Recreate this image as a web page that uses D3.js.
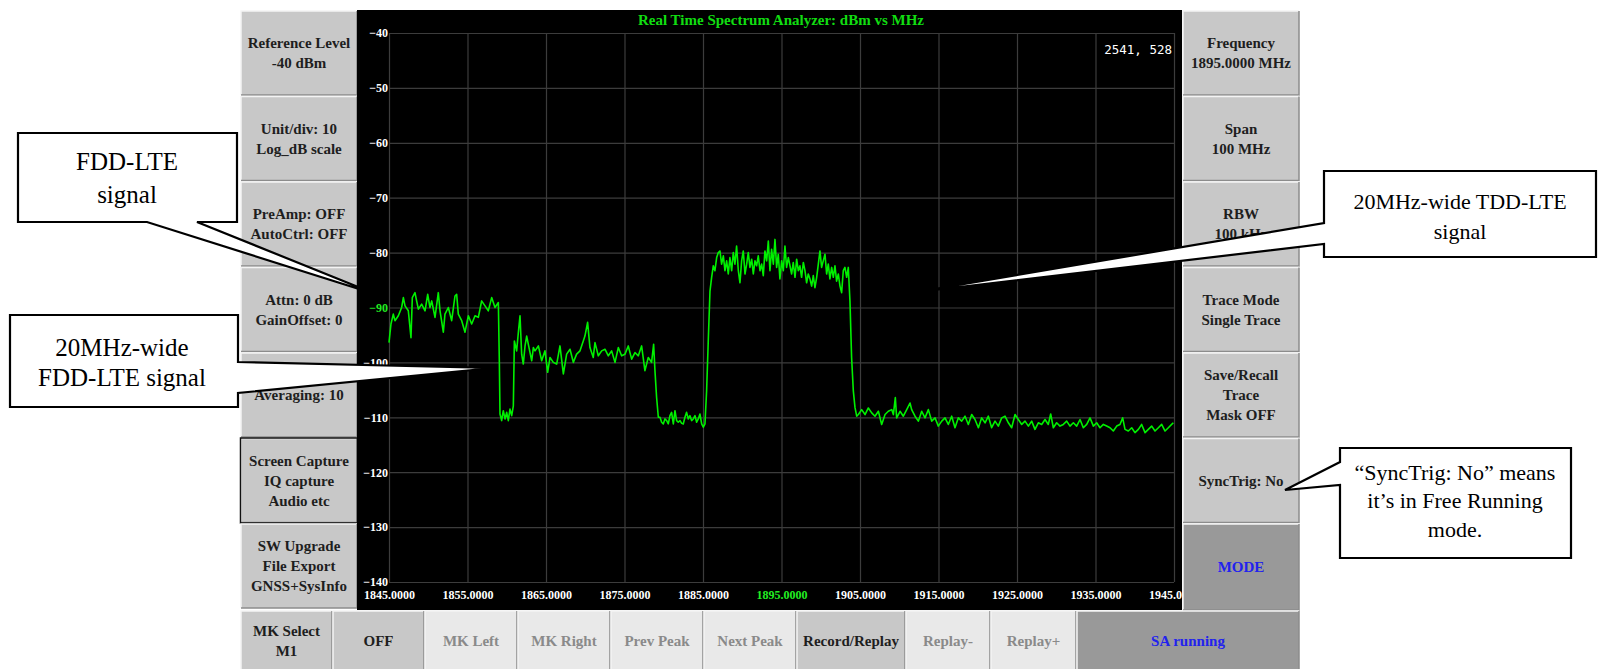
<!DOCTYPE html>
<meta charset="utf-8">
<script src="https://d3js.org/d3.v7.min.js"></script>
<style>
  body { margin: 0; background: #fff; }
  svg { display: block; }
</style>
<div id="screen"></div>
<script>

// ---- data ----
var yTicks = [-40, -50, -60, -70, -80, -90, -100, -110, -120, -130, -140];
var xTicks = [1845, 1855, 1865, 1875, 1885, 1895, 1905, 1915, 1925, 1935, 1945];
var markerLevel = -90;      // highlighted in green on the axis
var centerFreq = 1895;      // highlighted in green on the axis

// trace: [MHz, dBm]
var trace = [
  [1845.00,-96.4],[1845.25,-93.0],[1845.55,-91.2],[1845.76,-92.4],[1846.19,-91.5],[1846.61,-90.0],[1846.83,-88.2],[1847.04,-89.7],[1847.46,-90.6],[1847.80,-95.5],
  [1847.97,-88.2],[1848.31,-87.3],[1848.52,-88.8],[1848.74,-90.3],[1849.16,-89.4],[1849.59,-90.6],[1849.93,-87.6],[1850.22,-90.0],[1850.44,-88.8],[1850.86,-91.8],
  [1851.28,-87.3],[1851.50,-90.6],[1851.92,-94.5],[1852.13,-91.2],[1852.56,-90.0],[1852.98,-92.4],[1853.41,-87.9],[1853.62,-87.6],[1853.83,-91.2],[1854.26,-92.4],
  [1854.68,-94.5],[1855.11,-91.5],[1855.53,-93.0],[1855.96,-91.5],[1856.38,-91.8],[1856.80,-88.8],[1857.23,-89.7],[1857.65,-90.6],[1858.08,-88.2],[1858.50,-90.0],
  [1858.93,-89.1],[1859.06,-100.3],[1859.14,-109.4],[1859.35,-110.6],[1859.56,-108.8],[1859.78,-110.3],[1859.99,-109.1],[1860.20,-110.6],[1860.41,-108.5],[1860.63,-109.7],
  [1860.84,-107.9],[1860.97,-96.1],[1861.26,-97.9],[1861.48,-94.5],[1861.69,-91.5],[1861.90,-98.5],[1862.11,-100.3],[1862.33,-97.0],[1862.54,-95.2],[1862.75,-96.7],
  [1863.18,-99.7],[1863.39,-97.3],[1863.60,-97.9],[1864.03,-97.0],[1864.45,-99.7],[1864.87,-97.9],[1865.21,-101.8],[1865.51,-99.1],[1865.93,-100.0],[1866.36,-100.3],
  [1866.78,-97.0],[1867.21,-102.1],[1867.63,-98.5],[1868.06,-97.6],[1868.48,-100.0],[1868.90,-98.5],[1869.33,-97.9],[1869.75,-96.1],[1869.96,-95.2],[1870.30,-92.7],
  [1870.60,-97.3],[1871.02,-99.1],[1871.24,-96.4],[1871.66,-98.8],[1872.09,-97.9],[1872.51,-97.6],[1872.94,-98.8],[1873.36,-97.9],[1873.79,-100.0],[1874.21,-97.3],
  [1874.63,-98.8],[1875.06,-98.5],[1875.48,-97.0],[1875.91,-99.4],[1876.33,-98.2],[1876.76,-98.8],[1877.18,-97.0],[1877.60,-101.5],[1878.03,-99.1],[1878.45,-100.0],
  [1878.71,-96.7],[1878.88,-101.5],[1879.09,-106.4],
  [1879.31,-110.0],[1879.52,-110.0],[1879.73,-110.9],[1879.94,-111.2],[1880.15,-110.3],[1880.37,-110.6],[1880.58,-111.2],[1880.79,-109.7],[1881.00,-109.1],[1881.22,-111.2],
  [1881.43,-108.8],[1881.64,-110.6],[1881.85,-110.9],[1882.07,-110.6],[1882.28,-111.1],[1882.49,-111.2],[1882.70,-110.0],[1882.91,-109.1],[1883.13,-110.3],[1883.34,-109.7],
  [1883.55,-110.6],[1883.76,-110.3],[1883.98,-109.7],[1884.19,-110.9],[1884.40,-110.3],[1884.61,-109.4],[1884.83,-111.2],[1885.04,-111.8],[1885.25,-111.2],[1885.46,-105.2],
  [1885.67,-96.1],[1885.89,-87.0],[1886.10,-84.5],[1886.31,-82.4],[1886.52,-83.3],[1886.74,-80.9],[1886.95,-80.0],[1887.16,-79.7],[1887.37,-82.1],[1887.59,-80.6],
  [1887.80,-83.3],[1888.01,-81.5],[1888.22,-83.9],[1888.43,-80.9],[1888.65,-83.3],[1888.86,-80.0],[1889.07,-82.1],[1889.28,-78.8],[1889.50,-83.3],[1889.71,-85.5],
  [1889.92,-81.5],[1890.13,-79.7],[1890.35,-83.9],[1890.56,-82.1],[1890.77,-80.0],[1890.98,-82.7],[1891.20,-81.2],[1891.41,-83.9],[1891.62,-81.5],[1891.83,-82.4],
  [1892.04,-80.6],[1892.26,-83.3],[1892.47,-82.1],[1892.68,-84.2],[1892.89,-79.7],[1893.11,-81.5],[1893.32,-77.9],[1893.53,-83.3],[1893.74,-79.4],[1893.96,-82.1],
  [1894.17,-77.6],[1894.38,-82.7],[1894.59,-80.3],[1894.80,-84.8],[1895.02,-81.5],[1895.23,-83.3],[1895.44,-78.8],[1895.65,-82.7],[1895.87,-80.9],[1896.08,-82.4],
  [1896.29,-83.9],[1896.50,-81.8],[1896.72,-84.5],[1896.93,-81.2],[1897.14,-83.3],[1897.35,-82.4],[1897.56,-84.5],[1897.78,-81.8],[1897.99,-83.3],[1898.20,-85.5],
  [1898.41,-83.9],[1898.63,-84.8],[1898.84,-86.1],[1899.05,-84.2],[1899.26,-86.4],[1899.48,-84.5],[1899.69,-82.1],[1899.90,-79.7],[1900.11,-82.7],[1900.32,-81.5],
  [1900.54,-80.3],[1900.75,-83.9],[1900.96,-82.1],[1901.17,-84.8],[1901.39,-82.7],[1901.60,-84.5],[1901.81,-82.4],[1902.02,-85.2],[1902.24,-83.9],[1902.45,-86.1],
  [1902.66,-87.3],[1902.87,-83.3],[1903.08,-82.7],[1903.30,-84.5],[1903.51,-82.7],[1903.72,-88.8],[1903.93,-99.1],[1904.15,-105.2],[1904.36,-108.2],
  [1904.58,-109.8],[1904.79,-109.5],[1905.21,-108.6],[1905.64,-109.5],[1906.06,-108.3],[1906.49,-109.2],[1906.91,-109.8],[1907.34,-108.9],[1907.76,-111.3],[1908.19,-109.5],
  [1908.61,-108.9],[1909.04,-108.6],[1909.25,-109.5],[1909.50,-106.4],[1909.67,-110.1],[1910.10,-108.9],[1910.52,-109.8],[1910.95,-108.6],[1911.37,-107.4],[1911.58,-108.6],
  [1912.01,-109.8],[1912.43,-110.7],[1912.86,-108.9],[1913.28,-110.1],[1913.71,-108.6],[1914.13,-110.7],[1914.56,-110.1],[1914.98,-111.6],[1915.41,-110.7],[1915.83,-110.1],
  [1916.25,-111.3],[1916.68,-109.8],[1917.10,-111.9],[1917.53,-110.1],[1917.95,-110.7],[1918.38,-109.8],[1918.80,-111.3],[1919.23,-109.5],[1919.65,-110.4],[1920.08,-111.9],
  [1920.50,-110.1],[1920.93,-111.0],[1921.35,-109.8],[1921.77,-111.9],[1922.20,-110.7],[1922.62,-111.6],[1923.05,-110.1],[1923.47,-109.8],[1923.90,-111.0],[1924.32,-111.9],
  [1924.75,-109.5],[1925.17,-110.4],[1925.60,-111.3],[1926.02,-110.7],[1926.45,-111.6],[1926.87,-110.7],[1927.29,-112.2],[1927.72,-111.0],[1928.14,-111.3],[1928.57,-110.4],
  [1928.99,-111.3],[1929.29,-109.4],[1929.63,-111.9],[1930.05,-111.0],[1930.48,-111.6],[1930.90,-111.3],[1931.33,-110.7],[1931.75,-111.6],[1932.18,-111.0],[1932.60,-111.6],
  [1933.03,-110.4],[1933.45,-111.9],[1933.88,-111.3],[1934.30,-110.1],[1934.73,-111.6],[1935.15,-111.0],[1935.57,-111.9],[1936.00,-111.3],[1936.42,-111.6],[1936.85,-111.9],
  [1937.27,-112.5],[1937.70,-111.6],[1938.12,-111.3],[1938.46,-110.1],[1938.76,-112.2],[1939.18,-112.5],[1939.61,-111.9],[1940.03,-112.8],[1940.46,-112.2],[1940.88,-111.3],
  [1941.31,-112.8],[1941.73,-112.2],[1942.16,-111.6],[1942.58,-112.5],[1943.01,-111.9],[1943.43,-111.3],[1943.86,-112.5],[1944.28,-111.9],[1944.70,-111.3],[1944.92,-111.0]
];

var titleText = "Real Time Spectrum Analyzer: dBm vs MHz";
var cursorText = "2541, 528";

var leftButtons = [
  ["Reference Level", "-40 dBm"],
  ["Unit/div: 10", "Log_dB scale"],
  ["PreAmp: OFF", "AutoCtrl: OFF"],
  ["Attn: 0 dB", "GainOffset: 0"],
  ["Averaging: 10"],
  ["Screen Capture", "IQ capture", "Audio etc"],
  ["SW Upgrade", "File Export", "GNSS+SysInfo"]
];
var rightButtons = [
  ["Frequency", "1895.0000 MHz"],
  ["Span", "100 MHz"],
  ["RBW", "100 kHz"],
  ["Trace Mode", "Single Trace"],
  ["Save/Recall", "Trace", "Mask OFF"],
  ["SyncTrig: No"],
  ["MODE"]
];
var bottomButtons = [
  ["MK Select", "M1"], ["OFF"], ["MK Left"], ["MK Right"], ["Prev Peak"],
  ["Next Peak"], ["Record/Replay"], ["Replay-"], ["Replay+"], ["SA running"]
];
var bottomState = ["on", "on", "off", "off", "off", "off", "on", "off", "off", "mode"];

var callouts = [
  ["FDD-LTE", "signal"],
  ["20MHz-wide", "FDD-LTE signal"],
  ["20MHz-wide TDD-LTE", "signal"],
  ["\u201cSyncTrig: No\u201d means", "it\u2019s in Free Running", "mode."]
];

// ---- layout ----
var W = 1602, H = 669;
var serif = "'Liberation Serif','Times New Roman',serif";

var svg = d3.select("#screen").append("svg")
  .attr("width", W)
  .attr("height", H)
  .style("font-family", serif);

var x = d3.scaleLinear().domain([1845, 1945]).range([389, 1174]);
var y = d3.scaleLinear().domain([-140, -40]).range([582, 33]);

var faces = {on: "#c8c8c8", off: "#e9e9e9", mode: "#999999"};
var inks = {on: "#1e1e1e", off: "#8a8a8a", mode: "#2222ee"};

function button(x0, y0, w, h, lines, state, framed) {
  var g = svg.append("g");
  g.append("rect")
    .attr("x", x0).attr("y", y0).attr("width", w).attr("height", h)
    .attr("fill", faces[state]);
  // bevel
  g.append("path")
    .attr("d", "M" + x0 + "," + (y0 + h) + "V" + y0 + "H" + (x0 + w))
    .attr("fill", "none").attr("stroke", "#f4f4f4").attr("stroke-width", 1.5);
  g.append("path")
    .attr("d", "M" + x0 + "," + (y0 + h) + "H" + (x0 + w) + "V" + y0)
    .attr("fill", "none").attr("stroke", "#8c8c8c").attr("stroke-width", 1.5);
  if (framed) {
    g.append("rect")
      .attr("x", x0 - 0.5).attr("y", y0 - 0.5).attr("width", w + 1).attr("height", h + 1)
      .attr("fill", "none").attr("stroke", "#111").attr("stroke-width", 1.5);
  }
  var cy = y0 + h / 2;
  g.selectAll("text").data(lines).enter().append("text")
    .attr("x", x0 + w / 2)
    .attr("y", function(d, i) { return cy - (lines.length - 1) * 10 + i * 20 + 5; })
    .attr("text-anchor", "middle")
    .attr("font-size", 15)
    .attr("font-weight", "bold")
    .attr("fill", inks[state])
    .text(function(d) { return d; });
}

// side panels
leftButtons.forEach(function(lines, i) {
  button(241, 11 + i * 85.5, 116, 84, lines, "on", i == 5);
});
rightButtons.forEach(function(lines, i) {
  button(1183, 11 + i * 85.5, 116, i == 6 ? 86 : 84, lines, i == 6 ? "mode" : "on", false);
});

// bottom row
var edges = [241, 333, 425, 518, 611, 704, 797, 906, 991, 1077, 1300];
bottomButtons.forEach(function(lines, i) {
  button(edges[i], 611, edges[i + 1] - edges[i] - 1, 60, lines, bottomState[i], false);
});

// analyzer screen
svg.append("rect")
  .attr("x", 357).attr("y", 10).attr("width", 825).attr("height", 600)
  .attr("fill", "#000");

svg.append("clipPath").attr("id", "screenClip")
  .append("rect").attr("x", 357).attr("y", 10).attr("width", 825).attr("height", 600);

var screen = svg.append("g").attr("clip-path", "url(#screenClip)");

var yAxis = screen.append("g")
  .attr("transform", "translate(389,0)")
  .call(d3.axisLeft(y).tickValues(yTicks).tickSize(-785).tickPadding(1).tickFormat(d3.format("d")));
var xAxis = screen.append("g")
  .attr("transform", "translate(0,582)")
  .call(d3.axisBottom(x).tickValues(xTicks).tickSize(-549).tickPadding(8)
    .tickFormat(function(d) { return d.toFixed(4); }));

[yAxis, xAxis].forEach(function(a) {
  a.select(".domain").remove();
  a.selectAll("line").attr("stroke", "#3c3c3c").attr("stroke-width", 1.2);
  a.selectAll("text")
    .attr("fill", "#fff")
    .attr("font-family", serif)
    .attr("font-weight", "bold")
    .attr("font-size", 12);
});
yAxis.selectAll("text").filter(function(d) { return d == markerLevel; }).attr("fill", "#22ee22");
xAxis.selectAll("text").filter(function(d) { return d == centerFreq; }).attr("fill", "#22ee22");

screen.append("text")
  .attr("x", 781).attr("y", 25)
  .attr("text-anchor", "middle")
  .attr("font-size", 15).attr("font-weight", "bold")
  .attr("fill", "#11dd11")
  .text(titleText);

screen.append("text")
  .attr("x", 1172).attr("y", 54)
  .attr("text-anchor", "end")
  .attr("font-family", "'DejaVu Sans Mono',monospace")
  .attr("font-size", 12.5)
  .attr("fill", "#fff")
  .text(cursorText);

screen.append("path")
  .datum(trace)
  .attr("fill", "none")
  .attr("stroke", "#00f000")
  .attr("stroke-width", 1.6)
  .attr("stroke-linejoin", "round")
  .attr("d", d3.line()
    .x(function(d) { return x(d[0]); })
    .y(function(d) { return y(d[1]); }));

// ---- annotation callouts ----
var shapes = [
  [[18,133],[237,133],[237,222],[197,222],[378,295],[147,222],[18,222]],
  [[10,315],[238,315],[238,362],[493,368],[238,393],[238,407],[10,407]],
  [[1324,171],[1596,171],[1596,257],[1324,257],[1324,244],[917,292],[1324,223]],
  [[1340,448],[1571,448],[1571,558],[1340,558],[1340,485],[1285,490],[1340,462]]
];
var textPos = [
  {cx: 127, size: 25, y: [170, 203]},
  {cx: 122, size: 25, y: [356, 386]},
  {cx: 1460, size: 22, y: [209, 239]},
  {cx: 1455, size: 22, y: [480, 508, 537]}
];

callouts.forEach(function(lines, i) {
  svg.append("path")
    .attr("d", d3.line()(shapes[i]) + "Z")
    .attr("fill", "#fff")
    .attr("stroke", "#000")
    .attr("stroke-width", 2.2)
    .attr("stroke-linejoin", "miter");
  svg.append("g").selectAll("text").data(lines).enter().append("text")
    .attr("x", textPos[i].cx)
    .attr("y", function(d, j) { return textPos[i].y[j]; })
    .attr("text-anchor", "middle")
    .attr("font-size", textPos[i].size)
    .attr("fill", "#000")
    .text(function(d) { return d; });
});

</script>
